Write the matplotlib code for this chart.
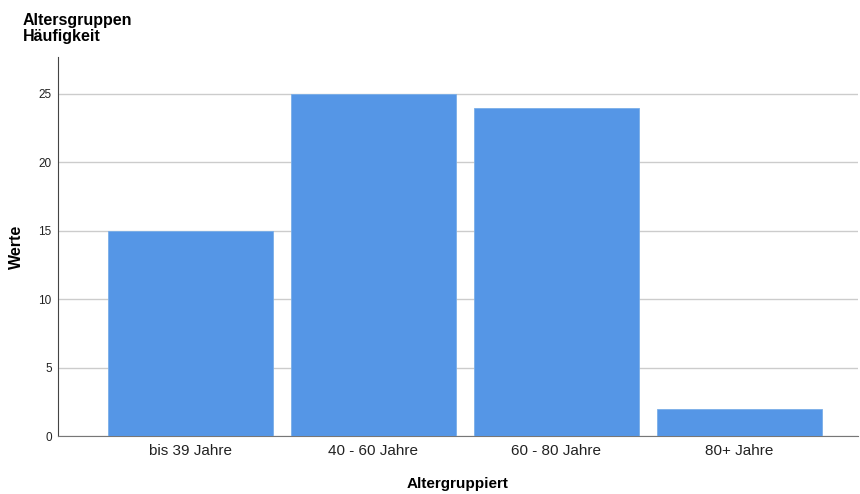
import matplotlib.pyplot as plt

plt.rcParams['font.family'] = ['Liberation Sans', 'DejaVu Sans']

# data
groups = ["bis 39 Jahre", "40 - 60 Jahre", "60 - 80 Jahre", "80+ Jahre"]
counts = [15, 25, 24, 2]
yticks = [0, 5, 10, 15, 20, 25]

fig = plt.figure(figsize=(8.6, 4.94), dpi=100)
ax = fig.add_axes([58 / 860, 1 - 436 / 494, 800 / 860, (436 - 57) / 494])

x = list(range(len(groups)))
ax.bar(x, counts, width=0.9, color="#5596e6", edgecolor="#7aaee8", linewidth=0.6, zorder=3)

ax.set_xlim(-0.724, 3.648)
ax.set_ylim(0, 27.7)
ax.set_yticks(yticks)
ax.set_xticks(x)
ax.set_xticklabels(groups, fontsize=11, color="#222222")
ax.tick_params(axis="y", labelsize=8.5, length=0, pad=4.5, labelcolor="#222222")
ax.tick_params(axis="x", length=0, pad=6)
ax.grid(axis="y", color="#cccccc", linewidth=1, zorder=0)

for s in ["top", "right"]:
    ax.spines[s].set_visible(False)
ax.spines["left"].set_color("#444444")
ax.spines["bottom"].set_color("#777777")

ax.set_ylabel("Werte", fontsize=11.5, fontweight="bold")
ax.yaxis.set_label_coords(-34 / 800, 0.5)
ax.set_xlabel("Altergruppiert", fontsize=11, fontweight="bold")
ax.xaxis.set_label_coords(0.5, -(477 - 436) / 379)

fig.text(23 / 860, 1 - 13 / 494, "Altersgruppen\nHäufigkeit", fontsize=11.5, fontweight="bold",
         va="top", ha="left", linespacing=1.12)

fig.savefig("out.png", dpi=100)
